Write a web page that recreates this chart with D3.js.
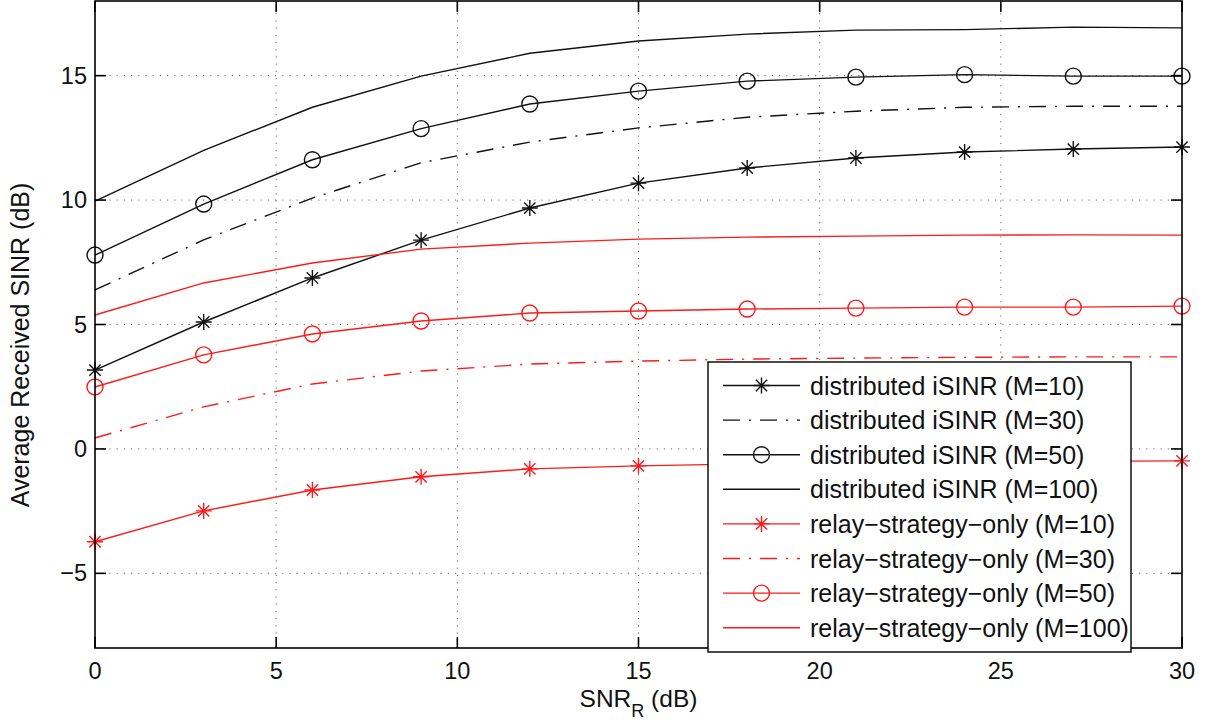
<!DOCTYPE html>
<html>
<head>
<meta charset="utf-8">
<script src="https://cdn.jsdelivr.net/npm/d3@7"></script>
<style>
  html, body { margin: 0; padding: 0; background: #fff; }
  svg { display: block; font-family: "Liberation Sans", Arial, Helvetica, sans-serif; }
</style>
</head>
<body>
<svg id="chart" width="1205" height="726"></svg>
<script>
// Relay SNR sweep (dB)
const snrR = [0, 3, 6, 9, 12, 15, 18, 21, 24, 27, 30];

// Average received SINR (dB) per scheme and number of antennas M
const distM10   = [3.17, 5.10, 6.87, 8.39, 9.68, 10.68, 11.29, 11.69, 11.93, 12.05, 12.13];
const distM30   = [6.39, 8.40, 10.08, 11.50, 12.33, 12.90, 13.33, 13.57, 13.73, 13.77, 13.77];
const distM50   = [7.79, 9.84, 11.62, 12.87, 13.86, 14.38, 14.78, 14.94, 15.04, 14.98, 14.98];
const distM100  = [9.96, 12.00, 13.73, 14.98, 15.90, 16.39, 16.67, 16.83, 16.85, 16.95, 16.92];
const relayM10  = [-3.73, -2.49, -1.65, -1.12, -0.80, -0.68, -0.60, -0.55, -0.52, -0.50, -0.48];
const relayM30  = [0.44, 1.69, 2.61, 3.13, 3.41, 3.53, 3.61, 3.65, 3.68, 3.70, 3.70];
const relayM50  = [2.49, 3.78, 4.62, 5.14, 5.46, 5.54, 5.62, 5.66, 5.70, 5.70, 5.74];
const relayM100 = [5.38, 6.67, 7.47, 8.03, 8.27, 8.43, 8.51, 8.55, 8.59, 8.60, 8.59];

const xTicks = [0, 5, 10, 15, 20, 25, 30];
const yTicks = [-5, 0, 5, 10, 15];

const seriesNames = [
  "distributed iSINR (M=10)",
  "distributed iSINR (M=30)",
  "distributed iSINR (M=50)",
  "distributed iSINR (M=100)",
  "relay\u2212strategy\u2212only (M=10)",
  "relay\u2212strategy\u2212only (M=30)",
  "relay\u2212strategy\u2212only (M=50)",
  "relay\u2212strategy\u2212only (M=100)"
];

const BLACK = "#111", RED = "#ff1a1a";
const series = [
  { name: seriesNames[0], values: distM10,   color: BLACK, dash: null,         marker: "star" },
  { name: seriesNames[1], values: distM30,   color: BLACK, dash: "17,9,2,9",   marker: null },
  { name: seriesNames[2], values: distM50,   color: BLACK, dash: null,         marker: "circle" },
  { name: seriesNames[3], values: distM100,  color: BLACK, dash: null,         marker: null },
  { name: seriesNames[4], values: relayM10,  color: RED,   dash: null,         marker: "star" },
  { name: seriesNames[5], values: relayM30,  color: RED,   dash: "17,9,2,9",   marker: null },
  { name: seriesNames[6], values: relayM50,  color: RED,   dash: null,         marker: "circle" },
  { name: seriesNames[7], values: relayM100, color: RED,   dash: null,         marker: null }
];

const svg = d3.select("#chart");
const x = d3.scaleLinear().domain([0, 30]).range([95, 1182]);
const y = d3.scaleLinear().domain([-8, 18]).range([648, 1]);
const [x0, x1] = x.range();
const [y0, y1] = y.range();

svg.append("rect").attr("width", 1205).attr("height", 726).attr("fill", "#fff");

// dotted grid
const grid = svg.append("g").attr("stroke", "#666").attr("stroke-width", 1)
  .attr("stroke-dasharray", "1.2,6");
grid.selectAll(".gx").data(xTicks.filter(d => d > 0 && d < 30)).enter().append("line")
  .attr("x1", d => x(d)).attr("x2", d => x(d)).attr("y1", y0).attr("y2", y1);
grid.selectAll(".gy").data(yTicks).enter().append("line")
  .attr("y1", d => y(d)).attr("y2", d => y(d)).attr("x1", x0).attr("x2", x1);

// curves
const line = d3.line().x((d, i) => x(snrR[i])).y(d => y(d));
const plot = svg.append("g");
function starPath(r) {
  const a = r * Math.cos(Math.PI / 4), b = r * Math.sin(Math.PI / 4);
  return `M0,${-r}V${r}M${-r},0H${r}M${-a},${-b}L${a},${b}M${-a},${b}L${a},${-b}`;
}
function drawMarker(g, type, cx, cy, color) {
  if (type === "star") {
    g.append("path").attr("d", starPath(8)).attr("transform", `translate(${cx},${cy})`)
      .attr("stroke", color).attr("stroke-width", 1.4).attr("fill", "none");
  } else if (type === "circle") {
    g.append("circle").attr("cx", cx).attr("cy", cy).attr("r", 8)
      .attr("stroke", color).attr("stroke-width", 1.4).attr("fill", "none");
  }
}
series.forEach(s => {
  plot.append("path").attr("d", line(s.values)).attr("fill", "none")
    .attr("stroke", s.color).attr("stroke-width", 1.4)
    .attr("stroke-dasharray", s.dash);
  if (s.marker) s.values.forEach((v, i) => drawMarker(plot, s.marker, x(snrR[i]), y(v), s.color));
});

// axes box with inward ticks on all sides
const axes = svg.append("g").attr("stroke", "#000").attr("stroke-width", 1.6);
axes.append("rect").attr("x", x0).attr("y", y1).attr("width", x1 - x0).attr("height", y0 - y1)
  .attr("fill", "none");
const tl = 11;
xTicks.forEach(t => {
  axes.append("line").attr("x1", x(t)).attr("x2", x(t)).attr("y1", y0).attr("y2", y0 - tl);
  axes.append("line").attr("x1", x(t)).attr("x2", x(t)).attr("y1", y1).attr("y2", y1 + tl);
});
yTicks.forEach(t => {
  axes.append("line").attr("y1", y(t)).attr("y2", y(t)).attr("x1", x0).attr("x2", x0 + tl);
  axes.append("line").attr("y1", y(t)).attr("y2", y(t)).attr("x1", x1).attr("x2", x1 - tl);
});

// tick labels
const fmt = d => (d < 0 ? "\u2212" + Math.abs(d) : String(d));
svg.append("g").selectAll("text").data(xTicks).enter().append("text")
  .attr("x", d => x(d)).attr("y", 679).attr("text-anchor", "middle")
  .attr("font-size", 23.5).attr("fill", "#111").text(fmt);
svg.append("g").selectAll("text").data(yTicks).enter().append("text")
  .attr("x", 87).attr("y", d => y(d) + 8).attr("text-anchor", "end")
  .attr("font-size", 23.5).attr("fill", "#111").text(fmt);

// axis titles
const xl = svg.append("text").attr("x", (x0 + x1) / 2).attr("y", 707)
  .attr("text-anchor", "middle").attr("font-size", 24.5).attr("fill", "#111");
xl.append("tspan").text("SNR");
xl.append("tspan").attr("font-size", 18).attr("dy", 10).text("R");
xl.append("tspan").attr("dy", -10).text(" (dB)");

svg.append("text").attr("transform", "translate(29,345) rotate(-90)")
  .attr("text-anchor", "middle").attr("font-size", 25).attr("fill", "#111")
  .text("Average Received SINR (dB)");

// legend
const lg = svg.append("g");
lg.append("rect").attr("x", 708).attr("y", 362).attr("width", 423).attr("height", 290)
  .attr("fill", "#fff").attr("stroke", "#000").attr("stroke-width", 1.4);
series.forEach((s, i) => {
  const cy = 385.5 + i * 34.6;
  lg.append("line").attr("x1", 723).attr("x2", 800).attr("y1", cy).attr("y2", cy)
    .attr("stroke", s.color).attr("stroke-width", 1.4).attr("stroke-dasharray", s.dash);
  if (s.marker) drawMarker(lg, s.marker, 761.5, cy, s.color);
  lg.append("text").attr("x", 810).attr("y", cy + 9).attr("font-size", 25)
    .attr("fill", "#111").text(s.name);
});
</script>
</body>
</html>
